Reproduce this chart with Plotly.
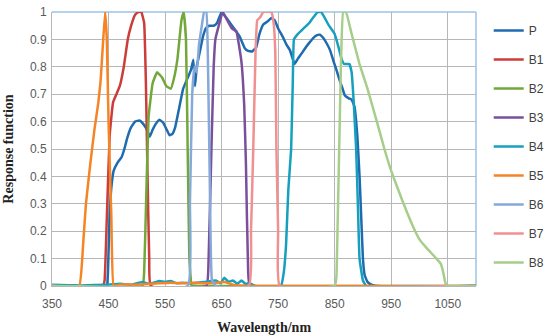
import plotly.graph_objects as go

# ---- data ----
series_names = ["P", "B1", "B2", "B3", "B4", "B5", "B6", "B7", "B8"]

P_x = [440, 447, 449, 451, 453, 455, 459, 466, 473, 478, 483, 490, 497, 505, 512, 518, 523, 528, 533, 540,
       547, 553, 558, 563, 568, 575, 582, 590, 596, 600, 603, 606, 612, 617, 622, 628, 636, 642, 650, 658,
       665, 672, 682, 691, 697, 704, 711, 717, 724, 731, 738, 744, 750, 758, 765, 771, 779, 785, 792, 800,
       806, 812, 818, 824, 830, 836, 842, 848, 853, 859, 864, 868, 875, 880, 885, 890, 894, 897, 900, 903,
       908, 915, 925, 1100]
P_y = [0.0, 0.0, 0.05, 0.2, 0.3, 0.36, 0.42, 0.45, 0.47, 0.5, 0.54, 0.58, 0.6, 0.604, 0.59, 0.57, 0.545, 0.57, 0.59, 0.607,
       0.595, 0.57, 0.55, 0.555, 0.58, 0.65, 0.72, 0.76, 0.79, 0.826, 0.73, 0.8, 0.86, 0.91, 0.94, 0.95, 0.95, 0.96, 1.0, 0.98,
       0.96, 0.94, 0.91, 0.868, 0.858, 0.856, 0.87, 0.92, 0.955, 0.965, 0.978, 0.97, 0.94, 0.91, 0.88, 0.86, 0.81, 0.83, 0.85, 0.874,
       0.89, 0.905, 0.915, 0.917, 0.905, 0.885, 0.86, 0.82, 0.79, 0.75, 0.72, 0.695, 0.685, 0.68, 0.655, 0.55, 0.4, 0.25, 0.1, 0.04,
       0.015, 0.005, 0.0, 0.0]

B1_x = [350, 440, 443, 447, 452, 458, 464, 470, 477, 484, 490, 497, 503, 508, 513, 516, 519, 522, 525, 1100]
B1_y = [0.0, 0.0, 0.02, 0.25, 0.55, 0.67, 0.7, 0.73, 0.8, 0.9, 0.95, 0.99, 1.0, 1.0, 0.96, 0.75, 0.4, 0.1, 0.0, 0.0]

B2_x = [350, 510, 513, 517, 521, 528, 536, 545, 552, 560, 566, 572, 579, 583, 587, 590, 593, 597, 600, 1100]
B2_y = [0.0, 0.0, 0.05, 0.35, 0.62, 0.74, 0.78, 0.76, 0.73, 0.72, 0.76, 0.83, 0.97, 1.0, 0.9, 0.5, 0.1, 0.0, 0.0, 0.0]

B3_x = [350, 623, 627, 632, 636, 639, 645, 652, 660, 668, 676, 685, 690, 693, 697, 700, 1100]
B3_y = [0.0, 0.0, 0.1, 0.5, 0.8, 0.9, 0.95, 1.0, 0.97, 0.94, 0.93, 0.82, 0.66, 0.45, 0.05, 0.0, 0.0]

B4_x = [350, 380, 400, 450, 470, 490, 510, 520, 530, 540, 550, 560, 570, 580, 600, 620, 640, 648, 655, 662,
        670, 678, 685, 692, 700, 710, 755, 760, 764, 768, 773, 776, 778, 785, 795, 805, 812, 820, 826, 832,
        840, 850, 857, 862, 867, 876, 880, 884, 888, 891, 894, 900, 906, 1100]
B4_y = [0.005, 0.003, 0.002, 0.005, 0.008, 0.005, 0.015, 0.008, 0.012, 0.018, 0.015, 0.018, 0.01, 0.012, 0.01, 0.015, 0.02, 0.01, 0.03, 0.015,
        0.02, 0.008, 0.02, 0.008, 0.01, 0.0, 0.0, 0.05, 0.15, 0.35, 0.5, 0.75, 0.9, 0.92, 0.94, 0.96, 0.98, 1.0, 1.0, 0.98,
        0.95, 0.92, 0.87, 0.83, 0.81, 0.81, 0.78, 0.66, 0.5, 0.3, 0.1, 0.02, 0.0, 0.0]

B5_x = [350, 398, 405, 410, 418, 425, 432, 436, 440, 444, 447, 450, 455, 459, 470, 500, 540, 560, 580, 600,
        620, 640, 655, 670, 700, 1100]
B5_y = [0.0, 0.0, 0.15, 0.3, 0.45, 0.57, 0.67, 0.75, 0.88, 1.0, 0.9, 0.6, 0.25, 0.0, 0.005, 0.005, 0.01, 0.012, 0.01, 0.012,
        0.01, 0.012, 0.015, 0.005, 0.0, 0.0]

B6_x = [350, 590, 594, 598, 602, 606, 610, 615, 619, 623, 626, 629, 633, 640, 1100]
B6_y = [0.0, 0.0, 0.3, 0.7, 0.8, 0.78, 0.88, 0.95, 1.0, 1.0, 0.8, 0.4, 0.02, 0.0, 0.0]

B7_x = [350, 698, 702, 706, 710, 713, 718, 724, 738, 742, 745, 747, 750, 753, 1050]
B7_y = [0.0, 0.0, 0.2, 0.5, 0.85, 0.97, 0.98, 1.0, 1.0, 0.96, 0.85, 0.5, 0.2, 0.0, 0.0]

B8_x = [350, 850, 853, 855, 858, 861, 865, 870, 880, 894, 908, 926, 938, 950, 970, 988, 1000, 1012, 1030, 1038,
        1042, 1046, 1050, 1100]
B8_y = [0.0, 0.0, 0.03, 0.2, 0.5, 0.8, 1.0, 1.0, 0.92, 0.81, 0.72, 0.59, 0.5, 0.42, 0.31, 0.22, 0.17, 0.14, 0.10, 0.08,
        0.05, 0.01, 0.0, 0.0]

x_ticks = [350, 450, 550, 650, 750, 850, 950, 1050]

colors = ["#1E6BB0", "#CC3D3A", "#72A83A", "#7A4F9C", "#17A0BE", "#F58426", "#85A9D8", "#F09090", "#A6CE8A"]

xs = [P_x, B1_x, B2_x, B3_x, B4_x, B5_x, B6_x, B7_x, B8_x]
ys = [P_y, B1_y, B2_y, B3_y, B4_y, B5_y, B6_y, B7_y, B8_y]

fig = go.Figure()
for name, x, y, c in zip(series_names, xs, ys, colors):
    fig.add_trace(go.Scatter(x=x, y=y, mode="lines", name=name, legendgroup=name,
                             line=dict(color=c, width=2.5, shape="spline", smoothing=0.3)))

grid_c = "#B7B7B7"
fig.update_layout(
    width=550, height=336,
    margin=dict(l=52, r=74, t=12, b=50, autoexpand=False),
    paper_bgcolor="white", plot_bgcolor="white",
    font=dict(family="Liberation Sans, Arial, sans-serif", size=12, color="#595959"),
    showlegend=True,
    legend=dict(x=1.03, y=0.985, xanchor="left", yanchor="top",
                font=dict(size=12, color="#404040"), tracegroupgap=10,
                bgcolor="rgba(0,0,0,0)"),
    xaxis=dict(range=[350, 1100], tickvals=x_ticks, ticktext=[str(v) for v in x_ticks],
               showgrid=True, gridcolor=grid_c, gridwidth=1,
               showline=True, linecolor=grid_c, linewidth=1, zeroline=False,
               ticks="", ticklabelstandoff=7, ticklabeloverflow="allow",
               tickfont=dict(size=12, color="#595959"),
               title=dict(text="<b>Wavelength/nm</b>", standoff=11,
                          font=dict(family="Liberation Serif, DejaVu Serif, serif", size=14, color="#222222"))),
    yaxis=dict(range=[0, 1], dtick=0.1, tick0=0,
               showgrid=True, gridcolor=grid_c, gridwidth=1,
               showline=True, linecolor=grid_c, linewidth=1, zeroline=False,
               ticks="", ticklabelstandoff=2, ticklabeloverflow="allow",
               tickfont=dict(size=12, color="#595959"),
               title=dict(text="<b>Response function</b>", standoff=13,
                          font=dict(family="Liberation Serif, DejaVu Serif, serif", size=14, color="#222222"))),
    shapes=[
        dict(type="line", xref="paper", yref="paper", x0=0, x1=1, y0=1, y1=1,
             line=dict(color="#9DC3E6", width=1.5), layer="below"),
        dict(type="line", xref="paper", yref="paper", x0=1, x1=1, y0=0, y1=1,
             line=dict(color="#9DC3E6", width=1.5), layer="below"),
    ],
)

# remove the browser's default 8px page margin so the 550x336 figure fills the window
fig.write_html("out.html", config={"displayModeBar": False},
               post_script="document.body.style.margin='0px';")
